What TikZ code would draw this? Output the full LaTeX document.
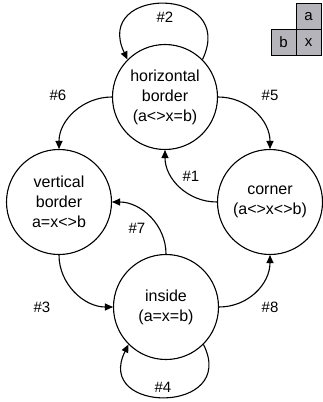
\documentclass[tikz,border=0pt]{standalone}
\usepackage{fontspec}
\setmainfont{Liberation Sans}
\usetikzlibrary{arrows.meta}

\definecolor{cellgray}{RGB}{180,180,186}

\begin{document}
\begin{tikzpicture}[x=1pt,y=1pt,yscale=-1,xscale=1,
  state/.style={draw,circle,line width=1.1pt,minimum size=105pt,inner sep=0pt,align=center,font=\fontsize{16}{20}\selectfont},
  edge/.style={line width=1.1pt,-{Triangle[length=8pt,width=7pt]}},
  lbl/.style={font=\fontsize{15}{18}\selectfont},
  cell/.style={draw,fill=cellgray,line width=0.9pt,minimum width=25pt,minimum height=26pt,inner sep=0pt,font=\fontsize{15}{18}\selectfont}]
\useasboundingbox (0,0) rectangle (322,402);

%Shape: Circle
\node[state] (hb) at (165,97) {horizontal\\border\\(a<>x=b)};
%Shape: Circle
\node[state] (vb) at (59,202) {vertical\\border\\a=x<>b};
%Shape: Circle
\node[state] (cn) at (270,202) {corner\\(a<>x<>b)};
%Shape: Circle
\node[state] (in) at (166,307) {inside\\(a=x=b)};

%Shape: Square
\node[cell] (ca) at (308.5,16.5) {a};
\node[cell] (cb) at (283.5,42.5) {b};
\node[cell] (cx) at (308.5,42.5) {x};

%Curve Lines
\draw[edge] (hb.45) .. controls +(35,-74) and +(-35,-74) .. (hb.135);
\draw[edge] (hb.west) .. controls +(-29,0) and +(0,-29) .. (vb.north);
\draw[edge] (hb.east) .. controls +(29,0) and +(0,-29) .. (cn.north);
\draw[edge] (cn.west) .. controls +(-29,0) and +(0,29) .. (hb.south);
\draw[edge] (in.north) .. controls +(0,-29) and +(29,0) .. (vb.east);
\draw[edge] (vb.south) .. controls +(0,29) and +(-29,0) .. (in.west);
\draw[edge] (in.east) .. controls +(29,0) and +(0,29) .. (cn.south);
\draw[edge] (in.-45) .. controls +(35,70) and +(-35,70) .. (in.-135);

% Text Node
\node[lbl] (l2) at (165,17) {\#2};
% Text Node
\node[lbl] (l6) at (58,95) {\#6};
% Text Node
\node[lbl] (l5) at (270,95) {\#5};
% Text Node
\node[lbl] (l1) at (191,176) {\#1};
% Text Node
\node[lbl] (l7) at (137,228) {\#7};
% Text Node
\node[lbl] (l3) at (42,307) {\#3};
% Text Node
\node[lbl] (l8) at (270,307) {\#8};
% Text Node
\node[lbl] (l4) at (163,387) {\#4};

\end{tikzpicture}
\end{document}
